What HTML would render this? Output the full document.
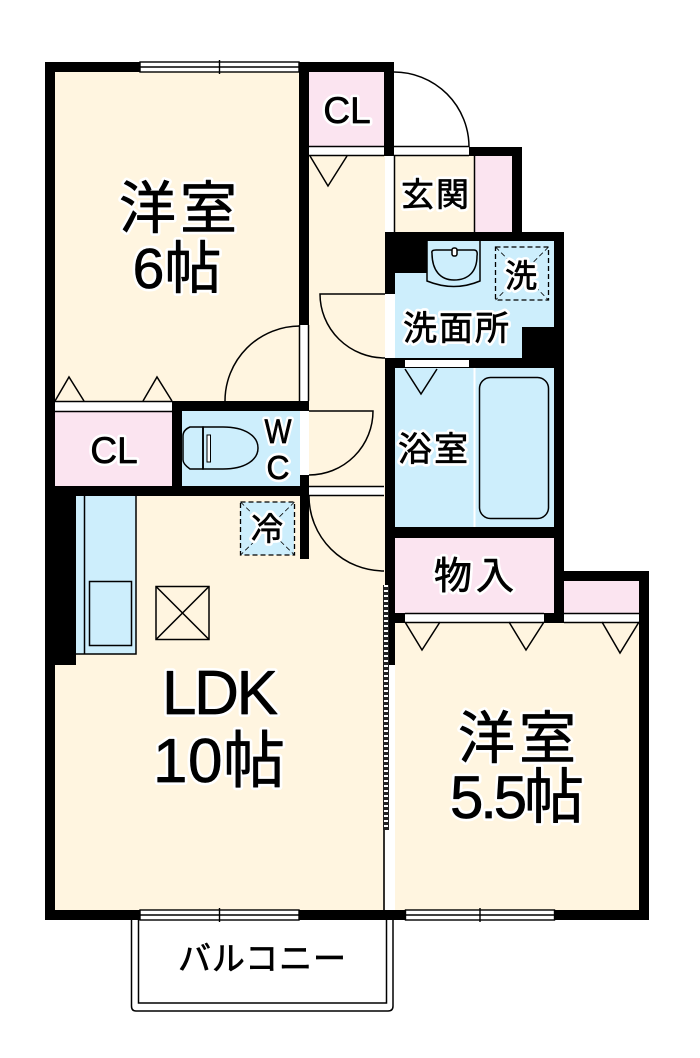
<!DOCTYPE html>
<html><head><meta charset="utf-8"><style>
html,body{margin:0;padding:0;background:#fff}
svg{display:block}
text{font-family:"Liberation Sans","Noto Sans CJK JP",sans-serif;text-anchor:middle;stroke-linejoin:round}
.halo text{fill:#fff;stroke:#fff;stroke-width:6px}
.ink text{fill:#000;stroke:#000;stroke-width:.7px}
</style></head><body>
<svg width="700" height="1058" viewBox="0 0 700 1058" xmlns="http://www.w3.org/2000/svg">
<!-- floors -->
<g fill="#fff5e0">
<rect x="55" y="72" width="245" height="330"/>
<rect x="309" y="155" width="76" height="335"/>
<rect x="395" y="156" width="80" height="76"/>
<rect x="55" y="496" width="330" height="414"/>
<rect x="309" y="490" width="76" height="100"/>
<rect x="395" y="622" width="244" height="288"/>
</g>
<g fill="#fbe4f0">
<rect x="309" y="72" width="75" height="75"/>
<rect x="475" y="156" width="37" height="76"/>
<rect x="55" y="411" width="117" height="75"/>
<rect x="395" y="538" width="159" height="75"/>
<rect x="564" y="581" width="75" height="32"/>
</g>
<g fill="#cdeefc">
<rect x="395" y="241" width="159" height="117"/>
<rect x="182" y="411" width="118" height="75"/>
<rect x="395" y="368" width="159" height="159"/>
<rect x="76" y="496" width="60" height="158"/>
<rect x="240" y="502" width="54" height="53"/>
</g>
<!-- walls -->
<g fill="#000">
<rect x="45" y="62" width="10" height="858"/>
<rect x="45" y="62" width="95" height="10"/>
<rect x="299" y="62" width="95" height="10"/>
<rect x="299" y="62" width="10" height="263"/>
<rect x="384" y="62" width="10" height="94"/>
<rect x="469" y="147" width="53" height="9"/>
<rect x="512" y="147" width="10" height="85"/>
<rect x="385" y="232" width="179" height="9"/>
<rect x="385" y="232" width="42" height="41"/>
<rect x="385" y="232" width="10" height="62"/>
<rect x="554" y="232" width="10" height="390"/>
<rect x="522" y="327" width="32" height="31"/>
<rect x="385" y="358" width="179" height="10"/>
<rect x="385" y="358" width="10" height="307"/>
<rect x="172" y="401" width="137" height="10"/>
<rect x="172" y="401" width="10" height="95"/>
<rect x="45" y="486" width="264" height="10"/>
<rect x="300" y="475" width="9" height="84"/>
<rect x="45" y="486" width="31" height="179"/>
<rect x="385" y="527" width="179" height="11"/>
<rect x="385" y="613" width="20" height="10"/>
<rect x="544" y="613" width="20" height="10"/>
<rect x="564" y="571" width="85" height="10"/>
<rect x="639" y="571" width="10" height="349"/>
<rect x="45" y="910" width="604" height="10"/>
</g>
<!-- white strips -->
<g fill="#fff">
<rect x="309" y="147" width="75" height="8"/>
<rect x="394" y="147" width="75" height="8"/>
<rect x="385" y="156" width="9" height="76"/>
<rect x="385" y="294" width="9" height="64"/>
<rect x="405" y="360" width="64" height="7"/>
<rect x="299" y="325" width="9" height="76"/>
<rect x="55" y="402" width="117" height="9"/>
<rect x="300" y="411" width="8" height="64"/>
<rect x="309" y="486" width="75" height="9"/>
<rect x="405" y="614" width="139" height="8"/>
<rect x="564" y="614" width="75" height="8"/>
<rect x="385" y="665" width="10" height="245"/>
</g>
<!-- thin lines -->
<g fill="none" stroke="#000" stroke-width="1.500">
<path d="M394 72A75 75 0 0 1 469 147"/>
<path d="M309 155.500H384M394 155.500H469M309 146.500H384M394 146.500H469"/>
<path d="M394.500 156V232M474.500 156V232"/>
<path d="M310 156L328 186L347 156"/>
<path d="M385 294H320A65 64 0 0 0 385 358"/>
<path d="M225 401A75 75 0 0 1 300 326"/>
<path d="M308.500 325V401M299.500 325V401"/>
<path d="M55 401.500H172M55 411.500H172"/>
<path d="M55 401L69 377L84 401M143 401L157 377L172 401"/>
<path d="M309 411H373A64 64 0 0 1 309 475"/>
<path d="M309 486.500H384M309 495.500H384"/>
<path d="M309 496A75 75 0 0 0 384 571"/>
<path d="M405 369L421 394L437 369"/>
<path d="M474.500 368V527" stroke="#fff" stroke-width="2"/>
<rect x="479.500" y="377.500" width="69" height="141" rx="11"/>
<path d="M405 622L422 650L440 622M509 622L526 650L544 622M602 622L620 653L639 622"/>
<path d="M405 613.500H544M405 622.500H544M564 613.500H639M564 622.500H639"/>
<path d="M84.500 496V654M136 496V654H76"/>
<rect x="89.500" y="581.500" width="42" height="64"/>
<rect x="156" y="586.500" width="53" height="53"/>
<path d="M156 586.500L209 639.500M209 586.500L156 639.500"/>
<path d="M384 600V910" stroke-width="1.600"/>
<path d="M131.500 920V1006Q131.500 1011 136 1011H388Q393 1011 393 1006V920"/>
<path d="M138.500 920V1003H386.500V920"/>
<!-- sink -->
<path d="M427 241V281Q454 292 480 281V241"/>
<path d="M432 253Q431 250 436 250H474Q478 250 477 256C477 272 468 280 454 280C440 280 432 270 432 253Z"/>
<rect x="452" y="248" width="5" height="8" rx="2" fill="#fff"/>
<!-- toilet -->
<path d="M203 427H223C245 427 258 436 258 448C258 460 245 469 223 469H203Z"/>
<path d="M203 427V469H190Q183 464 183 460V436Q183 430 190 427Z"/>
<path d="M203 427V469"/>
<rect x="207" y="435" width="3.500" height="27" fill="#fff" stroke-width="1"/>
</g>
<!-- hatch -->
<rect x="383" y="585" width="6" height="245" fill="#222"/>
<path d="M386 585V830" stroke="#fff" stroke-width="4" stroke-dasharray="2 3" fill="none"/>
<!-- dashed boxes -->
<g fill="none" stroke="#000" stroke-width="1.300" stroke-dasharray="5 3">
<rect x="240.500" y="502" width="54" height="53"/>
<path d="M240.500 502L294.500 555M294.500 502L240.500 555" stroke-width="0.800"/>
<rect x="495.500" y="247" width="53" height="53"/>
<path d="M495.500 247L548.500 300M548.500 247L495.500 300" stroke-width="0.800"/>
</g>
<!-- windows -->
<g>
<rect x="140" y="62" width="159" height="10" fill="#fff" stroke="#000" stroke-width="1.400"/>
<rect x="140" y="910" width="159" height="10" fill="#fff" stroke="#000" stroke-width="1.400"/>
<rect x="405.500" y="910" width="149" height="10" fill="#fff" stroke="#000" stroke-width="1.400"/>
<path d="M140 67H299M140 915H299M405 915H554M219.500 60V74M219.500 908V922M480 908V922" stroke="#000" stroke-width="1.400"/>
</g>
<!-- label halos -->
<g class="halo">
<text x="347" y="123" font-size="37">CL</text>
<text x="178" y="228" font-size="57" textLength="118">洋室</text>
<text x="177" y="288" font-size="57">6帖</text>
<text x="435" y="206" font-size="33" textLength="68">玄関</text>
<text x="521" y="287" font-size="32">洗</text>
<text x="456" y="340" font-size="34" textLength="106">洗面所</text>
<text x="433" y="461" font-size="34" textLength="70">浴室</text>
<text x="474" y="589" font-size="38" textLength="80">物入</text>
<text x="114" y="463" font-size="37">CL</text>
<text x="278" y="443" font-size="34" textLength="27" lengthAdjust="spacingAndGlyphs">W</text>
<text x="278" y="479" font-size="33" textLength="23" lengthAdjust="spacingAndGlyphs">C</text>
<text x="267" y="540" font-size="32">冷</text>
<text x="220" y="714" font-size="62" textLength="116">LDK</text>
<text x="219" y="782" font-size="62" textLength="132">10帖</text>
<text x="517" y="758" font-size="57" textLength="118">洋室</text>
<text x="517" y="818" font-size="60" textLength="134">5.5帖</text>
<text x="262" y="970" font-size="33" textLength="168">バルコニー</text>
</g>
<!-- label ink -->
<g class="ink">
<text x="347" y="123" font-size="37">CL</text>
<text x="178" y="228" font-size="57" textLength="118">洋室</text>
<text x="177" y="288" font-size="57">6帖</text>
<text x="435" y="206" font-size="33" textLength="68">玄関</text>
<text x="521" y="287" font-size="32">洗</text>
<text x="456" y="340" font-size="34" textLength="106">洗面所</text>
<text x="433" y="461" font-size="34" textLength="70">浴室</text>
<text x="474" y="589" font-size="38" textLength="80">物入</text>
<text x="114" y="463" font-size="37">CL</text>
<text x="278" y="443" font-size="34" textLength="27" lengthAdjust="spacingAndGlyphs">W</text>
<text x="278" y="479" font-size="33" textLength="23" lengthAdjust="spacingAndGlyphs">C</text>
<text x="267" y="540" font-size="32">冷</text>
<text x="220" y="714" font-size="62" textLength="116">LDK</text>
<text x="219" y="782" font-size="62" textLength="132">10帖</text>
<text x="517" y="758" font-size="57" textLength="118">洋室</text>
<text x="517" y="818" font-size="60" textLength="134">5.5帖</text>
<text x="262" y="970" font-size="33" textLength="168">バルコニー</text>
</g>
</svg>
</body></html>
